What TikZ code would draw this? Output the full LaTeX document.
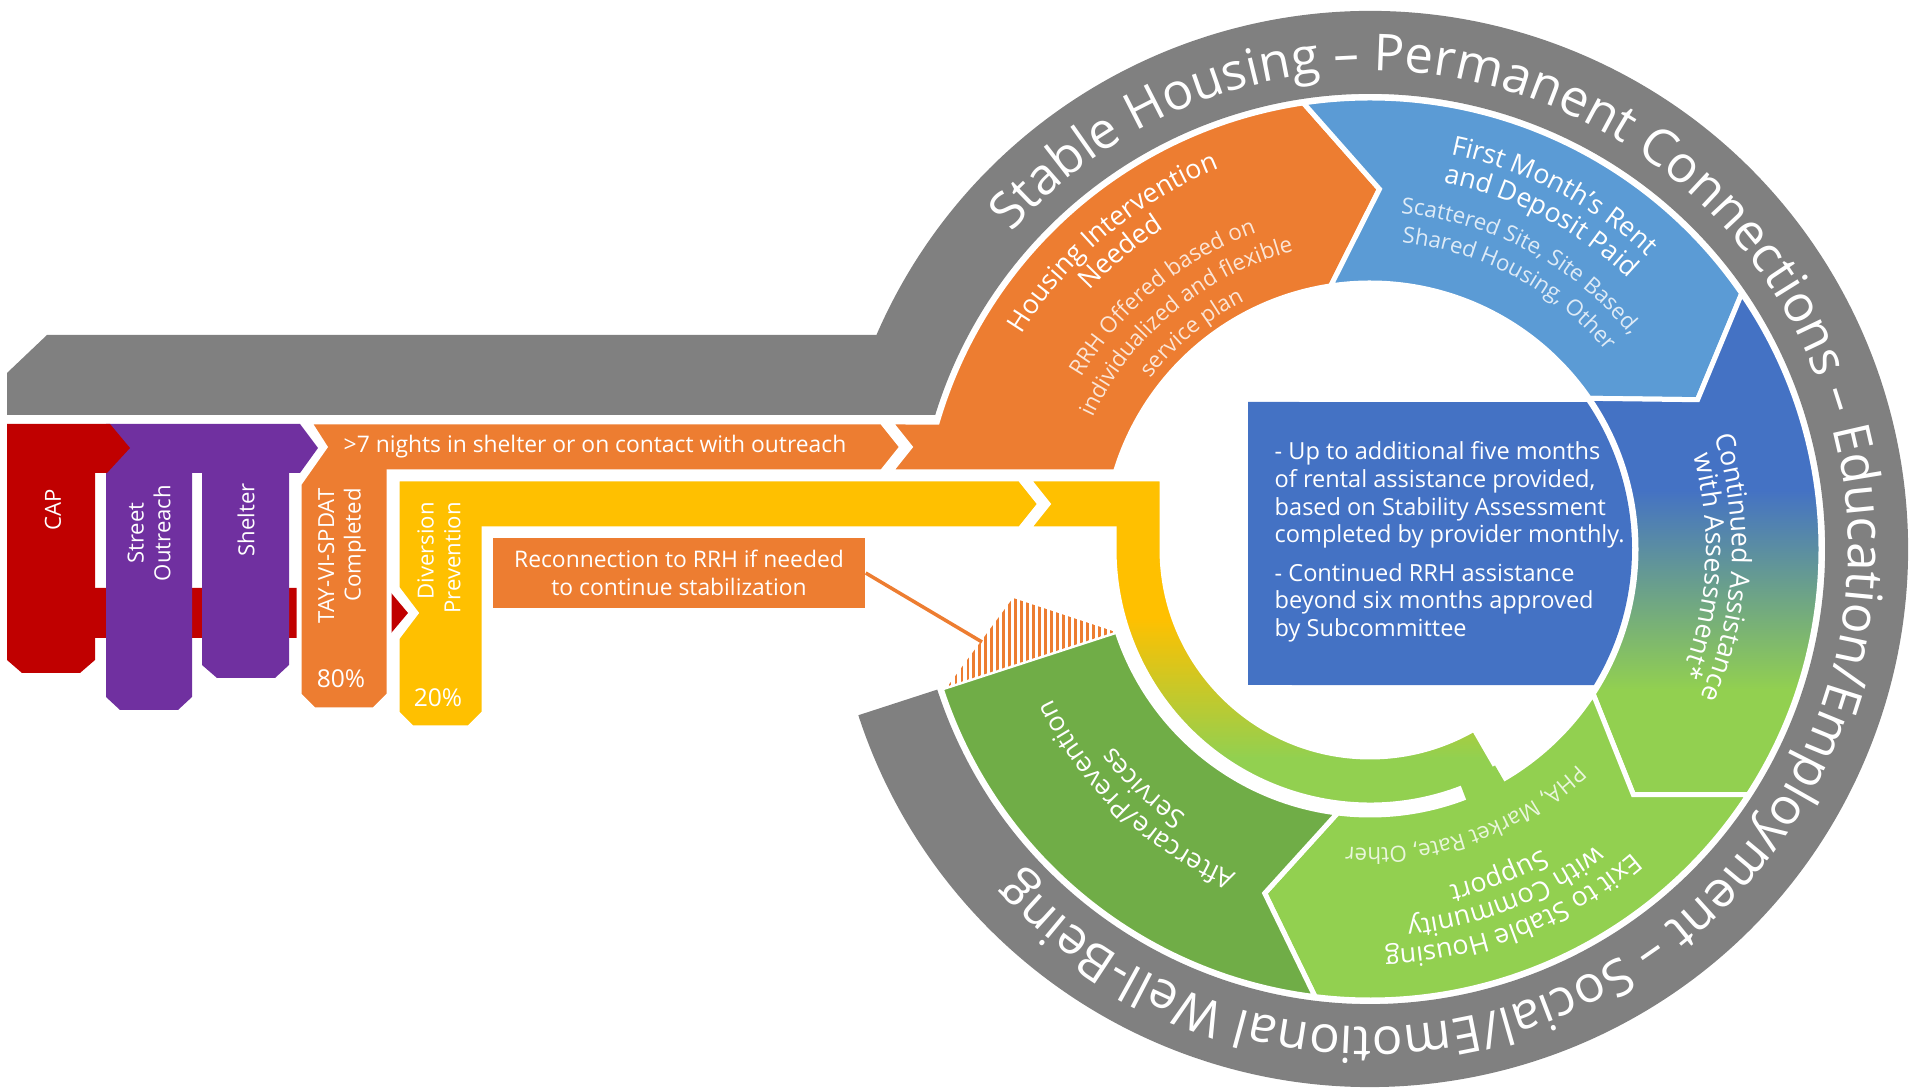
\documentclass[tikz,border=0pt]{standalone}
\usepackage{fontspec}
\setmainfont{Open Sans}
\usetikzlibrary{calc,decorations.text,patterns.meta}

\definecolor{ringgray}{HTML}{808080}
\definecolor{capred}{HTML}{C00000}
\definecolor{outpurple}{HTML}{7030A0}
\definecolor{hsgorange}{HTML}{ED7D31}
\definecolor{divyellow}{HTML}{FFC000}
\definecolor{rentblue}{HTML}{5B9BD5}
\definecolor{contblue}{HTML}{4472C4}
\definecolor{exitgreen}{HTML}{92D050}
\definecolor{aftergreen}{HTML}{70AD47}

% one arrow segment of the ring, from angle #1 down to angle #2
\newcommand{\segpath}[2]{($(C)+(#1:451)$) arc[start angle=#1, end angle=#2, radius=451] -- ($(C)+({#2-10}:360)$) -- ($(C)+(#2:266)$) arc[start angle=#2, end angle=#1, radius=266] -- ($(C)+({#1-10}:360)$) -- cycle}
% yellow path that bends into the inner ring
\newcommand{\ringpath}{(1028,609) -- (1162,609) -- (1162,539) arc[start angle=180, end angle=300, radius=208] -- ($(C)+(300:256)$) arc[start angle=300, end angle=180, radius=256] -- (1114,559) -- (1028,559) -- (1048,584) -- cycle}
% one line of text bent round the ring: [colour] angle, radius, size, text
\newcommand{\arcline}[5][white]{\path[decorate, decoration={text along path, text align=center,
    text={|\color{#1}\fontsize{#4}{#4}\selectfont|#5}}] ($(C)+({#2+40}:#3)$) arc[start angle={#2+40}, end angle={#2-40}, radius=#3];}

\begin{document}
\begin{tikzpicture}[x=0.1mm, y=0.1mm,
    gap/.style={draw=white, line width=0.5mm},
    lbl/.style={text=white, font=\fontsize{6.3}{7.6}\selectfont, align=center, inner sep=0pt},
    boxtxt/.style={text=white, font=\fontsize{6.7}{7.9}\selectfont, align=left, inner sep=0pt}]
        \useasboundingbox (0,0) rectangle (1921,1088);
        \coordinate (C) at (1370,539);

        % Gray band
        \fill[ringgray] (7,715) -- (47,753) -- ($(C)+(156.56:538)$) arc[start angle=156.56, end angle=-162, radius=538]
            -- ($(C)+(-162:455)$) arc[start angle=-162, end angle=162.87, radius=455] -- (7,673) -- cycle;
        \path[decorate, decoration={text along path, text align=center,
            text={|\color{white}\fontsize{14.5}{17}\selectfont|Stable Housing – Permanent Connections – Education/Employment – Social/Emotional Well-Being}}]
            ($(C)+(150:478)$) arc[start angle=150, end angle=-149, radius=478];

        % Entry columns
        \fill[capred] (90,500) -- (387,500) -- (408,475) -- (387,450) -- (90,450) -- cycle;
        \fill[outpurple] (107,664) -- (300,664) -- (318,640) -- (300,615) -- (289,615) -- (289,423) -- (275,410)
            -- (217,410) -- (202,423) -- (202,615) -- (192,615) -- (192,391) -- (178,378) -- (120,378) -- (106,391) -- (106,664) -- cycle;
        \fill[capred] (7,664) -- (110,664) -- (130,640) -- (107,615) -- (95,615) -- (95,428) -- (80,415) -- (22,415) -- (7,428) -- cycle;
        \path[gap, fill=hsgorange] (309,666) -- (882,666) -- (902,641) -- (882,616) -- (389,616) -- (389,393) -- (374,378)
            -- (314,378) -- (299,393) -- (299,604) -- (325,641) -- cycle;
        \path[gap, fill=divyellow] (397,609) -- (1020,609) -- (1040,584) -- (1020,559) -- (484,559) -- (484,375) -- (469,360)
            -- (412,360) -- (397,375) -- (397,450) -- (416,475) -- (397,500) -- cycle;

        % Ring segments
        \path[gap, fill=hsgorange] (890,666) -- ($(C)+(163.65:451)$) arc[start angle=163.65, end angle=98.5, radius=451]
            -- ($(C)+(88.5:360)$) -- ($(C)+(98.5:266)$) arc[start angle=98.5, end angle=163.17, radius=266] -- (890,616) -- (910,641) -- cycle;
        \begin{scope}
            \clip \ringpath;
            \fill[divyellow] (1000,469) rectangle (1700,620);
            \shade[top color=divyellow, bottom color=exitgreen] (1000,330) rectangle (1700,470);
            \fill[exitgreen] (1000,250) rectangle (1700,331);
        \end{scope}
        \path[gap] \ringpath;
        \path[gap, fill=rentblue] \segpath{98.5}{34.5};
        \begin{scope}
            \clip \segpath{34.5}{-33};
            \fill[contblue] (1550,597) rectangle (1921,820);
            \shade[top color=contblue, bottom color=exitgreen] (1550,398) rectangle (1921,598);
            \fill[exitgreen] (1550,250) rectangle (1921,399);
        \end{scope}
        \path[gap] \segpath{34.5}{-33};
        \path[gap, fill=exitgreen] \segpath{-33}{-97};
        \path[gap, fill=aftergreen] ($(C)+(-97:451)$) arc[start angle=-97, end angle=-162, radius=451]
            -- ($(C)+(-162:266)$) arc[start angle=-162, end angle=-97, radius=266] -- ($(C)+(-107:360)$) -- cycle;
        \fill[exitgreen] ($(C)+(-69:250)$) arc[start angle=-69, end angle=-60, radius=250]
            -- ($(C)+(-60:270)$) arc[start angle=-60, end angle=-69, radius=270] -- cycle;

        % Reconnection back into the loop
        \coordinate (hatchtip) at (982,446);
        \path[pattern={Lines[angle=90, distance=1.7pt, line width=0.8pt]}, pattern color=hsgorange]
            ($(C)+(-162:444)$) -- (1013,490) -- ($(C)+(-162:268)$) -- cycle;
        \node[fill=hsgorange, text=white, font=\fontsize{6.5}{7.9}\selectfont, align=center,
            minimum width=37.2mm, minimum height=7mm, inner sep=0pt] (reconn) at (679,515)
            {Reconnection to RRH if needed\\to continue stabilization};
        \draw[hsgorange, line width=0.35mm] (reconn.east) -- (hatchtip);

        % Center box
        \fill[contblue] (1248,403) -- (1248,686) -- ($(C)+(34.1:262)$) arc[start angle=34.1, end angle=-31.3, radius=262] -- cycle;
        \node[boxtxt, anchor=west] (boxtext) at (1274,546) {- Up to additional five months\\of rental assistance provided,\\based on Stability Assessment\\completed by provider monthly.\\[3pt]- Continued RRH assistance\\beyond six months approved\\by Subcommittee};

        % Labels
        \node[lbl, rotate=90] (cap) at (53,578) {CAP};
        \node[lbl, rotate=90] (street) at (149,555) {Street\\Outreach};
        \node[lbl, rotate=90] (shelter) at (246,568) {Shelter};
        \node[lbl, rotate=90, align=right] (spdat) at (342,532) {TAY-VI-SPDAT\\Completed};
        \node[lbl, rotate=90, align=right] (divert) at (439,530) {Diversion\\Prevention};
        \node[lbl, font=\fontsize{7}{8}\selectfont] (pct80) at (341,409) {80\%};
        \node[lbl, font=\fontsize{7}{8}\selectfont] (pct20) at (438,390) {20\%};
        \node[lbl, anchor=west, font=\fontsize{6.5}{7.8}\selectfont] (nights) at (343,641) {>7 nights in shelter or on contact with outreach};

        % Ring texts
        \arcline{130}{409}{7.6}{Housing Intervention}
        \arcline{130}{381}{7.6}{Needed}
        \arcline[white!80!hsgorange]{129.5}{336}{6.35}{RRH Offered based on}
        \arcline[white!80!hsgorange]{129.5}{307}{6.35}{individualized and flexible}
        \arcline[white!80!hsgorange]{129.5}{278}{6.35}{service plan}
        \arcline{62.5}{403}{7.6}{First Month’s Rent}
        \arcline{62.5}{374}{7.6}{and Deposit Paid}
        \arcline[white!80!rentblue]{62}{337}{6.35}{Scattered Site, Site Based,}
        \arcline[white!80!rentblue]{62}{308}{6.35}{Shared Housing, Other}
        \arcline{-3}{362}{7.6}{Continued Assistance}
        \arcline{-3}{336}{7.6}{with Assessment*}
        \arcline{-68.5}{401}{7.6}{Exit to Stable Housing}
        \arcline{-68.5}{373}{7.6}{with Community}
        \arcline{-68.5}{346}{7.6}{Support}
        \arcline[white!80!exitgreen]{-70.4}{299}{6.35}{PHA, Market Rate, Other}
        \arcline{-133.5}{351}{7.6}{Aftercare/Prevention}
        \arcline{-133.5}{324}{7.6}{Services}
\end{tikzpicture}
\end{document}
